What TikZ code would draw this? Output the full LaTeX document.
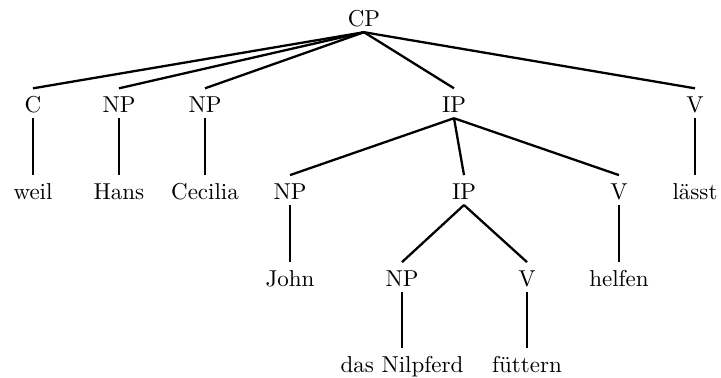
\documentclass[tikz,border=0pt]{standalone}
\begin{document}
\begin{tikzpicture}[x=0.4348pt,y=-0.4348pt,
  lab/.style={anchor=base,text height=8.2pt,text depth=0pt,inner ysep=2.2pt,inner xsep=0pt,font=\fontsize{10}{12}\selectfont},
  edge/.style={line width=1pt}]
\useasboundingbox (0,0) rectangle (721,378);
% row 0
\node[lab] (cp) at (364,26.7) {CP};
% row 1
\node[lab] (c) at (33,112.7) {C};
\node[lab] (np1) at (119,112.7) {NP};
\node[lab] (np2) at (205,112.7) {NP};
\node[lab] (ip1) at (454,112.7) {IP};
\node[lab] (v1) at (695,112.7) {V};
% row 2
\node[lab] (weil) at (33,199.5) {weil};
\node[lab] (hans) at (119,199.5) {Hans};
\node[lab] (cecilia) at (205,199.5) {Cecilia};
\node[lab] (np3) at (290,199.5) {NP};
\node[lab] (ip2) at (464,199.5) {IP};
\node[lab] (v2) at (619,199.5) {V};
\node[lab] (laesst) at (695,199.5) {lässt};
% row 3
\node[lab] (john) at (290,286.5) {John};
\node[lab] (np4) at (402,286.5) {NP};
\node[lab] (v3) at (527,286.5) {V};
\node[lab] (helfen) at (619,286.5) {helfen};
% row 4
\node[lab] (nilpferd) at (402,372) {das Nilpferd};
\node[lab] (fuettern) at (527,372) {füttern};
% edges
\foreach \ch in {c,np1,np2,ip1,v1} \draw[edge] (cp.south) -- (\ch.north);
\draw[edge] (c.south) -- (weil.north);
\draw[edge] (np1.south) -- (hans.north);
\draw[edge] (np2.south) -- (cecilia.north);
\foreach \ch in {np3,ip2,v2} \draw[edge] (ip1.south) -- (\ch.north);
\draw[edge] (v1.south) -- (laesst.north);
\draw[edge] (np3.south) -- (john.north);
\draw[edge] (ip2.south) -- (np4.north);
\draw[edge] (ip2.south) -- (v3.north);
\draw[edge] (v2.south) -- (helfen.north);
\draw[edge] (np4.south) -- (nilpferd.north);
\draw[edge] (v3.south) -- (fuettern.north);
\end{tikzpicture}
\end{document}
